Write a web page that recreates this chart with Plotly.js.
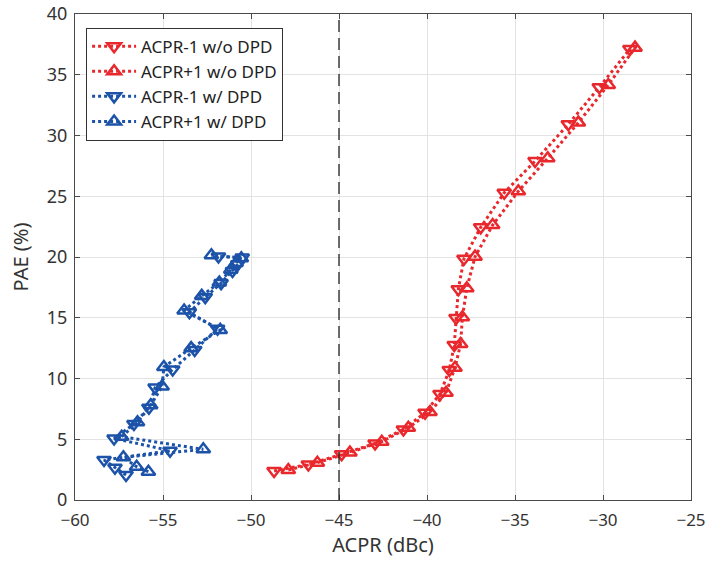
<!DOCTYPE html>
<html>
<head>
<meta charset="utf-8">
<script src="https://cdn.plot.ly/plotly-3.0.1.min.js"></script>
<style>
  html, body { margin: 0; padding: 0; background: #fff; }
  #chart { width: 706px; height: 569px; }
</style>
</head>
<body>
<div id="chart"></div>
<script>
// ACPR vs PAE, without and with digital predistortion
const seriesNames = ['ACPR-1 w/o DPD', 'ACPR+1 w/o DPD', 'ACPR-1 w/ DPD', 'ACPR+1 w/ DPD'];

const acprLowNoDpd = [-48.69, -46.74, -44.85, -42.95, -41.34, -40.11, -39.26, -38.73, -38.45, -38.35, -38.22, -37.90, -36.95, -35.61, -33.86, -31.97, -30.21, -28.47];
const paeLowNoDpd  = [2.39, 2.93, 3.76, 4.66, 5.81, 7.19, 8.72, 10.70, 12.76, 14.98, 17.34, 19.86, 22.44, 25.29, 27.90, 30.92, 33.97, 37.12];

const acprHighNoDpd = [-47.88, -46.23, -44.38, -42.57, -41.06, -39.83, -38.92, -38.41, -38.09, -37.99, -37.74, -37.27, -36.27, -34.81, -33.14, -31.40, -29.70, -28.18];
const paeHighNoDpd  = [2.47, 3.07, 3.90, 4.80, 5.95, 7.24, 8.83, 10.89, 12.84, 15.04, 17.42, 20.03, 22.63, 25.41, 28.12, 31.06, 34.16, 37.23];

const acprLowDpd = [-57.10, -57.73, -58.35, -54.60, -57.78, -56.65, -55.80, -55.45, -54.45, -53.20, -51.90, -53.50, -52.60, -51.70, -51.05, -50.75, -50.50, -51.85];
const paeLowDpd  = [2.06, 2.66, 3.29, 4.06, 5.07, 6.25, 7.60, 9.25, 10.75, 12.35, 14.10, 15.45, 16.70, 17.85, 18.85, 19.40, 19.95, 20.05];

const acprHighDpd = [-55.83, -56.50, -57.25, -52.71, -57.35, -56.45, -55.70, -55.05, -54.95, -53.40, -51.75, -53.80, -52.80, -51.80, -51.15, -50.85, -50.55, -52.25];
const paeHighDpd  = [2.33, 2.74, 3.51, 4.17, 5.21, 6.40, 7.80, 9.35, 10.95, 12.50, 14.00, 15.60, 16.80, 17.90, 18.95, 19.50, 19.90, 20.15];

// ACPR limit marked by the dashed vertical line
const acprLimit = -45;

const xTicks = [-60, -55, -50, -45, -40, -35, -30, -25];
const yTicks = [0, 5, 10, 15, 20, 25, 30, 35, 40];

const red = '#e8282d';
const blue = '#1c53a8';

function trace(name, x, y, color, symbol) {
  return {
    type: 'scatter', mode: 'lines+markers', name: name, x: x, y: y,
    line: { color: color, width: 3, dash: 'dot' },
    marker: { symbol: symbol, size: 12, color: color, line: { color: color, width: 2.5 } },
    cliponaxis: false
  };
}

const data = [
  trace(seriesNames[0], acprLowNoDpd, paeLowNoDpd, red, 'triangle-down-open'),
  trace(seriesNames[1], acprHighNoDpd, paeHighNoDpd, red, 'triangle-up-open'),
  trace(seriesNames[2], acprLowDpd, paeLowDpd, blue, 'triangle-down-open'),
  trace(seriesNames[3], acprHighDpd, paeHighDpd, blue, 'triangle-up-open')
];

const fontFam = 'Noto Sans, Open Sans, sans-serif';
const axisCommon = {
  showline: true, linecolor: '#4a4a4a', linewidth: 1, mirror: 'ticks',
  ticks: 'inside', ticklen: 5, tickcolor: '#4a4a4a',
  showgrid: true, gridcolor: '#e3e3e3', gridwidth: 1,
  zeroline: false,
  tickfont: { family: fontFam, size: 18, color: '#333' }
};

const layout = {
  width: 706, height: 569,
  margin: { l: 75, r: 15, t: 14, b: 69 },
  paper_bgcolor: '#fff', plot_bgcolor: '#fff',
  showlegend: true,
  xaxis: Object.assign({}, axisCommon, {
    range: [-60, -25], tickvals: xTicks, ticklabelstandoff: 5,
    tickfont: { family: fontFam, size: 17, color: '#333' },
    ticktext: xTicks.map(v => v < 0 ? '\u2212' + Math.abs(v) : String(v)),
    title: { text: 'ACPR (dBc)', font: { family: fontFam, size: 20, color: '#333' }, standoff: 6 }
  }),
  yaxis: Object.assign({}, axisCommon, {
    range: [0, 40], tickvals: yTicks, ticklabelstandoff: 3,
    title: { text: 'PAE (%)', font: { family: fontFam, size: 20, color: '#333' }, standoff: 12 }
  }),
  legend: {
    x: 0.018, y: 0.972, xanchor: 'left', yanchor: 'top',
    bgcolor: '#fff', bordercolor: '#333', borderwidth: 1,
    font: { family: fontFam, size: 17, color: '#222' },
    tracegroupgap: 0, itemwidth: 44
  },
  shapes: [{
    type: 'line', xref: 'x', yref: 'paper', x0: acprLimit, x1: acprLimit, y0: 0, y1: 1,
    line: { color: '#222', width: 1.3, dash: '12px,6px' }, layer: 'above'
  }]
};

Plotly.newPlot('chart', data, layout, { displayModeBar: false, staticPlot: true });
</script>
</body>
</html>
